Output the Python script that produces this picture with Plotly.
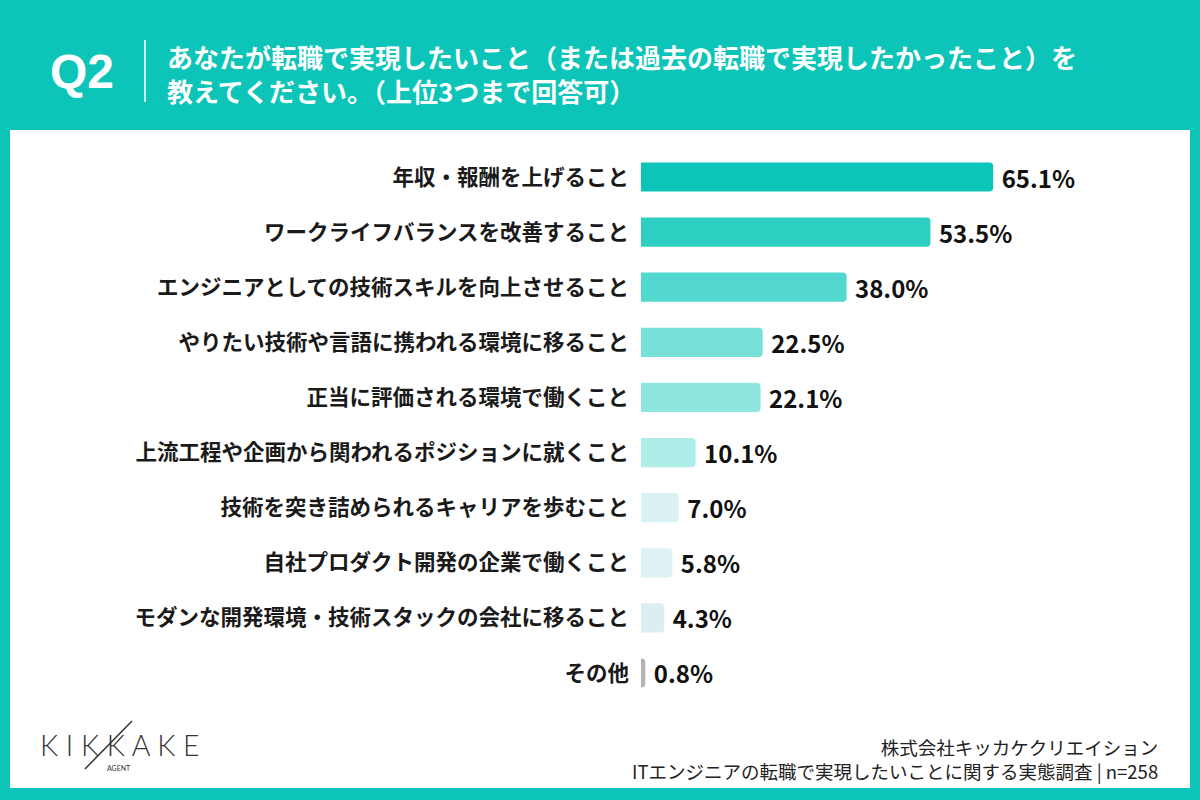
import plotly.graph_objects as go

categories = [
    "年収・報酬を上げること",
    "ワークライフバランスを改善すること",
    "エンジニアとしての技術スキルを向上させること",
    "やりたい技術や言語に携われる環境に移ること",
    "正当に評価される環境で働くこと",
    "上流工程や企画から関われるポジションに就くこと",
    "技術を突き詰められるキャリアを歩むこと",
    "自社プロダクト開発の企業で働くこと",
    "モダンな開発環境・技術スタックの会社に移ること",
    "その他",
]
values = [65.1, 53.5, 38.0, 22.5, 22.1, 10.1, 7.0, 5.8, 4.3, 0.8]
value_labels = ["65.1%", "53.5%", "38.0%", "22.5%", "22.1%", "10.1%", "7.0%", "5.8%", "4.3%", "0.8%"]
bar_colors = ["#0BC6B8", "#2ECFC3", "#52D8CE", "#77E0D8", "#8FE5DF", "#AEEDE8",
              "#DAF2F4", "#E0F1F4", "#DDEEF3", "#B4B4B4"]

title_line1 = "あなたが転職で実現したいこと（または過去の転職で実現したかったこと）を"
title_line2 = "教えてください。（上位3つまで回答可）"
footer1 = "株式会社キッカケクリエイション"
footer2 = "ITエンジニアの転職で実現したいことに関する実態調査 | n=258"

TEAL = "#0CC5B8"
JP = "Noto Sans CJK JP"

fig = go.Figure()
fig.add_trace(go.Bar(
    x=values, y=categories, orientation="h",
    marker=dict(color=bar_colors, cornerradius=4, line=dict(width=0)),
    width=0.53,
    text=[" " + t for t in value_labels], textposition="outside", cliponaxis=False,
    constraintext="none",
    textfont=dict(family=JP, size=24, color="#111111", weight="bold"),
    hoverinfo="skip",
))

W, H = 1200, 800
x0px = 641
scale = 5.41
y_top = 149.45
y_bot = 700.55

fig.update_layout(
    width=W, height=H,
    margin=dict(l=0, r=0, t=0, b=0),
    paper_bgcolor=TEAL, plot_bgcolor="rgba(0,0,0,0)",
    showlegend=False,
    xaxis=dict(domain=[x0px / W, 1], range=[0, (W - x0px) / scale],
               visible=False, fixedrange=True),
    yaxis=dict(domain=[(H - y_bot) / H, (H - y_top) / H],
               autorange="reversed", categoryorder="array", categoryarray=categories,
               showgrid=False, zeroline=False, showline=False, ticks="",
               ticklabelstandoff=11,
               tickfont=dict(family=JP, size=21.5, color="#1a1a1a", weight="bold")),
    shapes=[
        dict(type="rect", xref="paper", yref="paper", x0=10 / W, x1=1190 / W,
             y0=1 - 788 / H, y1=1 - 130 / H, fillcolor="white", line=dict(width=0), layer="below"),
        dict(type="line", xref="paper", yref="paper", x0=145 / W, x1=145 / W,
             y0=1 - 102 / H, y1=1 - 40 / H, line=dict(color="white", width=1.5)),
        dict(type="line", xref="paper", yref="paper", x0=85 / W, x1=132 / W,
             y0=1 - 769 / H, y1=1 - 721 / H, line=dict(color="#333333", width=1.5)),
    ],
    annotations=[
        dict(text="Q2", xref="paper", yref="paper", x=48 / W, y=1 - 71 / H,
             xanchor="left", yanchor="middle", showarrow=False,
             font=dict(family="Liberation Sans", size=48, color="white", weight="bold")),
        dict(text=title_line1 + "<br>" + title_line2, xref="paper", yref="paper",
             x=165 / W, y=1 - 73.5 / H, align="left",
             xanchor="left", yanchor="middle", showarrow=False,
             font=dict(family=JP, size=26, color="white", weight="bold")),
        dict(text="K I K K A K E", xref="paper", yref="paper", x=38 / W, y=1 - 745 / H,
             xanchor="left", yanchor="middle", showarrow=False,
             font=dict(family="Lato", size=28.5, color="#333333", weight=300)),
        dict(text="AGENT", xref="paper", yref="paper", x=119 / W, y=1 - 768 / H,
             xanchor="center", yanchor="middle", showarrow=False,
             font=dict(family="Lato", size=7, color="#333333")),
        dict(text=footer1 + "<br>" + footer2, xref="paper", yref="paper",
             x=1160 / W, y=1 - 759 / H, align="right",
             xanchor="right", yanchor="middle", showarrow=False,
             font=dict(family=JP, size=18.5, color="#222222")),
    ],
)

fig.write_html("out.html")
